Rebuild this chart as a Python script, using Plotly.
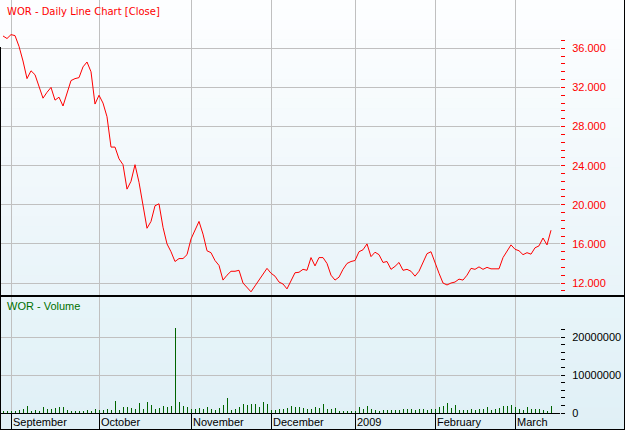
import plotly.graph_objects as go
import pandas as pd

# ---------------- data ----------------
holidays = ["2008-12-25", "2008-12-26", "2009-01-01", "2009-01-26"]
dates = [d.strftime("%Y-%m-%d") for d in pd.bdate_range("2008-08-28", "2009-03-13")
         if d.strftime("%Y-%m-%d") not in holidays]

close = [
    37.26, 37.0, 37.4, 37.3, 36.2, 34.7, 32.9, 33.7, 33.3, 32.2,
    30.9, 31.5, 32.0, 30.7, 31.0, 30.1, 31.4, 32.7, 32.9, 33.0,
    34.1, 34.6, 33.6, 30.3, 31.2, 30.4, 29.0, 25.9, 25.9, 24.7,
    24.1, 21.6, 22.4, 24.1, 22.3, 19.8, 17.6, 18.3, 19.9, 20.1,
    17.7, 16.0, 15.2, 14.2, 14.5, 14.5, 14.9, 16.5, 17.4, 18.3,
    17.0, 15.3, 15.1, 14.3, 13.8, 12.3, 12.8, 13.2, 13.2, 13.3,
    12.0, 11.5, 11.1, 11.7, 12.3, 13.0, 13.5, 13.0, 12.7, 12.1,
    11.9, 11.4, 12.3, 13.05, 13.1, 13.4, 13.3, 14.6, 13.75, 14.6,
    14.6, 14.0, 12.8, 12.3, 12.6, 13.4, 14.0, 14.2, 14.3, 15.2,
    15.4, 16.0, 14.7, 15.15, 14.9, 14.1, 14.2, 13.4, 13.7, 14.1,
    13.3, 13.4, 13.2, 12.7, 13.2, 14.2, 15.0, 15.2, 14.0, 13.0,
    12.0, 11.8, 12.0, 12.1, 12.4, 12.3, 12.8, 13.5, 13.4, 13.65,
    13.4, 13.6, 13.45, 13.45, 13.45, 14.6, 15.2, 15.9, 15.45, 15.3,
    14.9, 15.1, 14.95, 15.6, 15.8, 16.6, 15.9, 17.4,
]

volume_millions = [
    0.6, 0.45, 0.4, 0.45, 0.9, 1.05, 1.9, 0.45, 0.7, 0.6,
    1.6, 1.15, 1.05, 1.3, 1.5, 1.6, 0.9, 0.6, 0.45, 0.45,
    0.45, 0.7, 0.6, 1.05, 0.7, 0.7, 1.05, 0.9, 3.2, 0.9,
    1.6, 1.6, 1.3, 1.15, 2.6, 1.15, 2.8, 2.2, 1.05, 1.3,
    1.75, 1.6, 1.9, 22.4, 2.9, 1.75, 1.6, 1.15, 1.15, 1.3,
    1.05, 1.6, 1.15, 0.7, 1.3, 2.2, 3.9, 0.7, 1.05, 1.6,
    2.4, 2.2, 2.3, 2.4, 1.6, 2.9, 2.5, 0.7, 0.9, 1.05,
    1.05, 1.3, 1.9, 1.6, 1.6, 1.3, 1.05, 1.15, 1.5, 1.3,
    2.4, 1.15, 1.15, 1.3, 0.45, 0.45, 0.5, 0.5, 0.6, 1.5,
    1.15, 1.9, 1.15, 0.9, 0.5, 0.9, 0.9, 0.9, 0.9, 0.9,
    1.05, 1.05, 1.15, 0.9, 1.05, 1.15, 0.9, 1.05, 1.15, 1.6,
    1.9, 2.6, 1.3, 2.2, 0.9, 0.9, 0.9, 1.05, 0.9, 1.15,
    1.15, 1.6, 0.9, 1.15, 1.3, 1.75, 1.9, 2.0, 1.6, 1.05,
    0.9, 1.5, 1.15, 1.05, 1.15, 0.9, 0.45, 1.75,
]
volume = [v * 1e6 for v in volume_millions]

price_ticks = [12, 16, 20, 24, 28, 32, 36]
price_minor_step = 0.8
volume_ticks = [0, 10000000, 20000000]
volume_minor_step = 2000000
month_labels = ["September", "October", "November", "December", "2009", "February", "March"]
month_starts = [dates[i] for i in range(1, len(dates)) if dates[i][5:7] != dates[i - 1][5:7]]
month_start_idx = [dates.index(d) for d in month_starts]

# minor tick positions: one step beyond the outer labelled ticks
n_pm = round((price_ticks[-1] - price_ticks[0]) / price_minor_step) + 3
price_minor = [round(price_ticks[0] - price_minor_step + k * price_minor_step, 3) for k in range(n_pm)]
n_vm = round((volume_ticks[-1] - volume_ticks[0]) / volume_minor_step) + 2
volume_minor = [volume_ticks[0] + k * volume_minor_step for k in range(n_vm)]

# ---------------- geometry helpers ----------------
W, H = 625, 430
ML, MR, MT, MB = 1, 65, 0, 17
PW, PH = W - ML - MR, H - MT - MB


def px2x(px):
    return (px - ML) / PW


def px2y(py):
    return (PH + MT - py) / PH


FONT = "Liberation Sans, Arial, sans-serif"
GRID = "#c0c0c0"

fig = go.Figure()

fig.add_trace(go.Bar(
    x=dates, y=volume, xaxis="x", yaxis="y",
    width=0.25, marker=dict(color="#006400", line=dict(width=0)),
    showlegend=False, hoverinfo="skip",
))
fig.add_trace(go.Scatter(
    x=dates, y=close, xaxis="x2", yaxis="y2", mode="lines",
    line=dict(color="#ff0000", width=1),
    showlegend=False, hoverinfo="skip",
))

shapes = []


def lerp(c1, c2, t):
    return "rgb(%d,%d,%d)" % tuple(round(a + (b - a) * t) for a, b in zip(c1, c2))


# top panel gradient background
N = 30
top_px0, top_px1 = 0, 295
for k in range(N):
    a = top_px0 + (top_px1 - top_px0) * k / N
    b = top_px0 + (top_px1 - top_px0) * (k + 1) / N + 0.5
    shapes.append(dict(type="rect", xref="paper", yref="paper", layer="below",
                       x0=px2x(0), x1=px2x(W), y0=px2y(b), y1=px2y(a),
                       fillcolor=lerp((253, 254, 255), (233, 244, 249), k / (N - 1)),
                       line=dict(width=0)))
# bottom panel + strip background
N2 = 12
bot_px0, bot_px1 = 296, H
for k in range(N2):
    a = bot_px0 + (bot_px1 - bot_px0) * k / N2
    b = bot_px0 + (bot_px1 - bot_px0) * (k + 1) / N2 + 0.5
    shapes.append(dict(type="rect", xref="paper", yref="paper", layer="below",
                       x0=px2x(0), x1=px2x(W), y0=px2y(b), y1=px2y(a),
                       fillcolor=lerp((231, 244, 249), (224, 240, 246), k / (N2 - 1)),
                       line=dict(width=0)))
# panel separator
shapes.append(dict(type="line", xref="paper", yref="paper", x0=px2x(0), x1=px2x(W),
                   y0=px2y(296), y1=px2y(296), line=dict(color="black", width=2)))
# outer borders
shapes.append(dict(type="line", xref="paper", yref="paper", x0=px2x(0), x1=px2x(W),
                   y0=px2y(429.5), y1=px2y(429.5), line=dict(color="black", width=1)))
shapes.append(dict(type="line", xref="paper", yref="paper", x0=px2x(624.5), x1=px2x(624.5),
                   y0=px2y(0), y1=px2y(H), line=dict(color="black", width=1)))
shapes.append(dict(type="line", xref="paper", yref="paper", x0=px2x(0.5), x1=px2x(0.5),
                   y0=px2y(47), y1=px2y(H), line=dict(color="black", width=1)))

annotations = [
    dict(text="WOR - Daily Line Chart [Close]", xref="paper", yref="paper",
         x=px2x(5), y=px2y(4), xanchor="left", yanchor="top", showarrow=False,
         font=dict(family="DejaVu Sans, sans-serif", size=10, color="#ff0000")),
    dict(text="WOR - Volume", xref="paper", yref="paper",
         x=px2x(5), y=px2y(298), xanchor="left", yanchor="top", showarrow=False,
         font=dict(family=FONT, size=11, color="#007000")),
]
for idx, lab in zip(month_start_idx, month_labels):
    annotations.append(dict(text=lab, xref="x", yref="paper", x=idx, y=0,
                            xanchor="left", yanchor="top", xshift=0, yshift=-1,
                            showarrow=False,
                            font=dict(family=FONT, size=11, color="black")))

xr = [-0.5, 139.25]
fig.update_layout(
    width=W, height=H,
    margin=dict(l=ML, r=MR, t=MT, b=MB, pad=0, autoexpand=False),
    paper_bgcolor="#e6f2f7", plot_bgcolor="rgba(0,0,0,0)",
    font=dict(family=FONT, size=11),
    bargap=0,
    xaxis=dict(type="category", range=xr, anchor="y", domain=[0, 1], automargin=False,
               tickvals=month_starts, showticklabels=False,
               ticks="outside", ticklen=16, tickcolor="black", tickwidth=1,
               showgrid=True, gridcolor=GRID, gridwidth=1,
               showline=True, linecolor="black", linewidth=1, zeroline=False),
    xaxis2=dict(type="category", range=xr, anchor="y2", matches="x", automargin=False,
                tickvals=month_starts, showticklabels=False, ticks="",
                showgrid=True, gridcolor=GRID, gridwidth=1, showline=False, zeroline=False),
    yaxis=dict(domain=[0, px2y(297)], range=[0, (413 - 297) / 3.8 * 1e6], side="right",
               automargin=False,
               tickvals=volume_ticks, tickformat="d",
               ticks="outside", ticklen=4, tickcolor="black", ticklabelstandoff=5,
               tickfont=dict(family=FONT, size=11, color="black"),
               minor=dict(tickmode="array", tickvals=volume_minor, ticks="outside",
                          ticklen=4, tickcolor="black", showgrid=False),
               showgrid=True, gridcolor=GRID, gridwidth=1, zeroline=False, showline=False),
    yaxis2=dict(domain=[px2y(295), 1], range=[36 - (295 - 48.3) / 9.78, 36 + 48.3 / 9.78],
                side="right", anchor="x2", automargin=False,
                tickvals=price_ticks, tickformat=".3f",
                ticks="outside", ticklen=4, tickcolor="#ff0000", ticklabelstandoff=5,
                tickfont=dict(family=FONT, size=11, color="#ff0000"),
                minor=dict(tickmode="array", tickvals=price_minor, ticks="outside",
                           ticklen=4, tickcolor="#ff0000", showgrid=False),
                showgrid=True, gridcolor=GRID, gridwidth=1, zeroline=False, showline=False),
    shapes=shapes,
    annotations=annotations,
)

fig.write_html("out.html", config={"displayModeBar": False, "staticPlot": True},
               post_script="document.body.style.margin='0';document.body.style.overflow='hidden';")
